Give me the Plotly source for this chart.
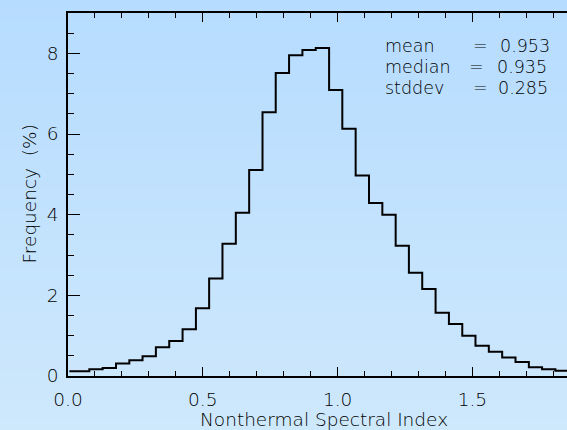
import plotly.graph_objects as go

# Histogram bin centres (Nonthermal spectral index) and frequencies (%)
bin_centers = [0.005, 0.054, 0.104, 0.153, 0.203, 0.252, 0.301, 0.351, 0.400, 0.450,
               0.499, 0.548, 0.598, 0.647, 0.697, 0.746, 0.795, 0.845, 0.894, 0.944,
               0.993, 1.042, 1.092, 1.141, 1.191, 1.240, 1.289, 1.339, 1.388, 1.438,
               1.487, 1.536, 1.586, 1.635, 1.685, 1.734, 1.783, 1.833, 1.882]
frequency = [0.12, 0.12, 0.17, 0.20, 0.31, 0.39, 0.49, 0.71, 0.87, 1.16,
             1.68, 2.42, 3.28, 4.05, 5.11, 6.54, 7.51, 7.95, 8.08, 8.13,
             7.09, 6.13, 4.97, 4.29, 4.00, 3.23, 2.56, 2.16, 1.57, 1.29,
             1.00, 0.75, 0.60, 0.46, 0.35, 0.22, 0.17, 0.13, 0.10]

stat_names = ["mean", "median", "stddev"]
stat_values = ["0.953", "0.935", "0.285"]

x_ticks = [0.0, 0.5, 1.0, 1.5]
y_ticks = [0, 2, 4, 6, 8]

FONT = "DejaVu Sans"
TXT = "#000000"

W, H = 567, 430
ML, MR, MT, MB = 68, 0, 13, 54
PW, PH = W - ML - MR, H - MT - MB

fig = go.Figure()
fig.add_trace(go.Scatter(
    x=bin_centers, y=frequency, mode="lines", line_shape="hvh",
    line=dict(color="black", width=2), hoverinfo="skip", showlegend=False,
))

# vertical gradient background
shapes = []
N = 43
top = (182, 220, 255)
bot = (206, 232, 252)
for i in range(N):
    t = i / (N - 1)
    c = tuple(round(top[k] + (bot[k] - top[k]) * t) for k in range(3))
    py0 = i * H / N
    py1 = (i + 1) * H / N + 0.6
    shapes.append(dict(
        type="rect", xref="paper", yref="paper", layer="below",
        x0=-ML / PW, x1=1 + MR / PW + 0.01,
        y0=1 - (py1 - MT) / PH, y1=1 - (py0 - MT) / PH,
        fillcolor="rgb(%d,%d,%d)" % c, line=dict(width=0),
    ))

annotations = []
ys = [8.17, 7.66, 7.15]
eq_x = [1.500, 1.485, 1.500]
val_x = [1.597, 1.586, 1.593]
sfont = dict(family=FONT, size=17.5, color=TXT, weight=300)
for name, val, yv, ex, vx in zip(stat_names, stat_values, ys, eq_x, val_x):
    annotations.append(dict(x=1.172, y=yv, xref="x", yref="y", text=name,
                            showarrow=False, xanchor="left", yanchor="middle",
                            borderpad=0, font=sfont))
    annotations.append(dict(x=ex, y=yv, xref="x", yref="y", text="=",
                            showarrow=False, xanchor="left", yanchor="middle",
                            borderpad=0, font=sfont))
    annotations.append(dict(x=vx, y=yv, xref="x", yref="y", text=val,
                            showarrow=False, xanchor="left", yanchor="middle",
                            borderpad=0, font=sfont))

# axis titles
annotations.append(dict(x=(324 - ML) / PW, y=-(419 - MT - PH) / PH, xref="paper", yref="paper",
                        text="Nonthermal Spectral Index", showarrow=False,
                        xanchor="center", yanchor="middle",
                        font=dict(family=FONT, size=18.5, color=TXT, weight=300)))
annotations.append(dict(x=(29 - ML) / PW, y=0.5, xref="paper", yref="paper",
                        text="Frequency  (%)", showarrow=False, textangle=-90,
                        xanchor="center", yanchor="middle",
                        font=dict(family=FONT, size=18.5, color=TXT, weight=300)))

fig.update_layout(
    width=W, height=H,
    margin=dict(l=ML, r=MR, t=MT, b=MB, pad=0),
    paper_bgcolor="rgb(194,226,254)",
    plot_bgcolor="rgba(0,0,0,0)",
    shapes=shapes,
    annotations=annotations,
    font=dict(family=FONT, size=18, color=TXT),
    xaxis=dict(
        range=[0, 1.851], tickvals=x_ticks, ticktext=["%.1f" % v for v in x_ticks],
        ticks="inside", ticklen=9, tickwidth=1.2, tickcolor="black",
        minor=dict(dtick=0.1, ticks="inside", ticklen=5, tickwidth=1.2, tickcolor="black"),
        showline=True, linecolor="black", linewidth=1.5, mirror="ticks",
        showgrid=False, zeroline=False, ticklabelstandoff=6,
        tickfont=dict(family=FONT, size=18.5, color=TXT, weight=300),
    ),
    yaxis=dict(
        range=[0, 9], tickvals=y_ticks,
        ticks="inside", ticklen=12, tickwidth=1.2, tickcolor="black",
        minor=dict(dtick=0.5, ticks="inside", ticklen=6, tickwidth=1.2, tickcolor="black"),
        showline=True, linecolor="black", linewidth=1.5,
        showgrid=False, zeroline=False, ticklabelstandoff=4,
        tickfont=dict(family=FONT, size=18.5, color=TXT, weight=300),
    ),
)

fig.write_html("out.html")
